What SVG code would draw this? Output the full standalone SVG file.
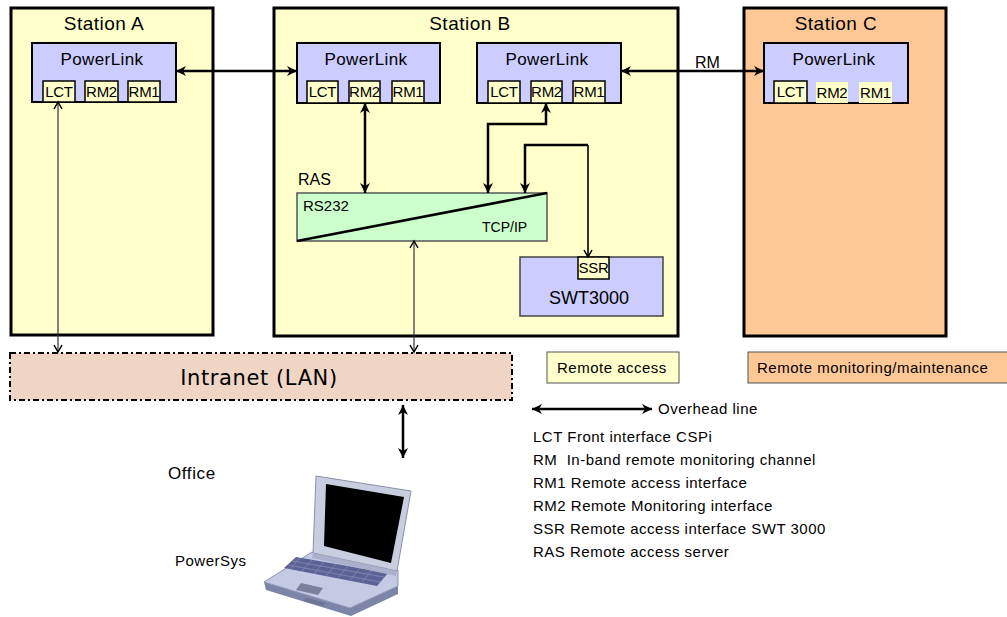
<svg xmlns="http://www.w3.org/2000/svg" width="1007" height="617" viewBox="0 0 1007 617">
  <style>
    text { font-family: "Liberation Sans", Arial, sans-serif; fill: #000; }
    .station { stroke: #000; stroke-width: 3; }
    .yellow { fill: #ffffcc; }
    .peach { fill: #fdc896; }
    .pl { fill: #ccccff; stroke: #000; stroke-width: 2; }
    .port { fill: #ffffcc; stroke: #000; stroke-width: 1.5; }
    .portnb { fill: #ffffcc; stroke: none; }
    .t-st { font-size: 19px; letter-spacing: 0.5px; text-anchor: middle; }
    .t-pl { font-size: 17px; letter-spacing: 0.4px; text-anchor: middle; }
    .t-port { font-size: 15px; letter-spacing: -0.3px; text-anchor: middle; }
    .t-leg { font-size: 15px; letter-spacing: 0.5px; }
    .thick { fill: none; stroke: #000; stroke-width: 2.5; }
    .thin { fill: none; stroke: #333; stroke-width: 1.2; }
  </style>
  <defs>
    <marker id="ah" markerUnits="userSpaceOnUse" markerWidth="12" markerHeight="12" refX="10" refY="6" orient="auto-start-reverse">
      <path d="M0,1 L10,6 L0,11 L3,6 Z" fill="#000"/>
    </marker>
    <marker id="ahs" markerUnits="userSpaceOnUse" markerWidth="10" markerHeight="10" refX="8" refY="5" orient="auto-start-reverse">
      <path d="M1,1 L8,5 L1,9" fill="none" stroke="#000" stroke-width="1.5"/>
    </marker>
  </defs>

  <rect width="1007" height="617" fill="#fff"/>

  <!-- Station A -->
  <g id="station-a">
    <rect x="11" y="8" width="202" height="327" class="station yellow"/>
    <text x="104" y="30" class="t-st">Station A</text>
  </g>
  <g id="powerlink-a">
    <rect x="32" y="43" width="144" height="59" class="pl"/>
    <text x="102" y="65" class="t-pl">PowerLink</text>
    <rect x="43" y="81" width="32" height="21" class="port"/>
    <text x="59" y="97" class="t-port">LCT</text>
    <rect x="85" y="81" width="33" height="21" class="port"/>
    <text x="101.5" y="97" class="t-port">RM2</text>
    <rect x="128" y="81" width="32" height="21" class="port"/>
    <text x="144" y="97" class="t-port">RM1</text>
  </g>

  <!-- Station B -->
  <g id="station-b">
    <rect x="274" y="8" width="404" height="328" class="station yellow"/>
    <text x="470" y="30" class="t-st">Station B</text>
  </g>
  <g id="powerlink-b1">
    <rect x="297" y="43" width="143" height="60" class="pl"/>
    <text x="366" y="65" class="t-pl">PowerLink</text>
    <rect x="307" y="81" width="31" height="22" class="port"/>
    <text x="322.5" y="97" class="t-port">LCT</text>
    <rect x="349" y="81" width="31" height="22" class="port"/>
    <text x="364.5" y="97" class="t-port">RM2</text>
    <rect x="392" y="81" width="32" height="22" class="port"/>
    <text x="408" y="97" class="t-port">RM1</text>
  </g>
  <g id="powerlink-b2">
    <rect x="477" y="43" width="144" height="60" class="pl"/>
    <text x="547" y="65" class="t-pl">PowerLink</text>
    <rect x="488" y="81" width="32" height="22" class="port"/>
    <text x="504" y="97" class="t-port">LCT</text>
    <rect x="531" y="81" width="31" height="22" class="port"/>
    <text x="546.5" y="97" class="t-port">RM2</text>
    <rect x="573" y="81" width="32" height="22" class="port"/>
    <text x="589" y="97" class="t-port">RM1</text>
  </g>
  <g id="ras">
    <text x="298" y="185" style="font-size:16px">RAS</text>
    <rect x="297" y="193" width="250" height="48" fill="#ccffcc" stroke="#555" stroke-width="1.5"/>
    <line x1="297" y1="241" x2="547" y2="193" stroke="#000" stroke-width="2.5"/>
    <text x="303" y="211" style="font-size:15px">RS232</text>
    <text x="482" y="232" style="font-size:14px">TCP/IP</text>
  </g>
  <g id="swt3000">
    <rect x="520" y="257" width="143" height="59" fill="#ccccff" stroke="#444" stroke-width="1.5"/>
    <rect x="578" y="257" width="31" height="22" class="port"/>
    <text x="593.5" y="273" class="t-port">SSR</text>
    <text x="589" y="304" style="font-size:18px;text-anchor:middle">SWT3000</text>
  </g>

  <!-- Station C -->
  <g id="station-c">
    <rect x="744" y="8" width="202" height="328" class="station peach"/>
    <text x="836" y="30" class="t-st">Station C</text>
  </g>
  <g id="powerlink-c">
    <rect x="764" y="43" width="144" height="60" class="pl"/>
    <text x="834" y="65" class="t-pl">PowerLink</text>
    <rect x="774" y="81" width="33" height="22" class="port"/>
    <text x="790.5" y="97" class="t-port">LCT</text>
    <rect x="816" y="82" width="32" height="21" class="portnb"/>
    <text x="832" y="98" class="t-port">RM2</text>
    <rect x="859" y="82" width="33" height="21" class="portnb"/>
    <text x="875.5" y="98" class="t-port">RM1</text>
  </g>

  <!-- Intranet -->
  <g id="intranet">
    <rect x="10" y="353" width="502" height="47" fill="#f0d4c4" stroke="#000" stroke-width="2" stroke-dasharray="6 3 2 3"/>
    <text x="259" y="385" style="font-family:'DejaVu Sans',Verdana,sans-serif;font-size:21px;letter-spacing:0.6px;text-anchor:middle">Intranet (LAN)</text>
  </g>

  <!-- Office computer -->
  <g id="office">
    <text x="168" y="479" style="font-size:17px;letter-spacing:0.6px">Office</text>
    <text x="175" y="566" style="font-size:15px;letter-spacing:0.5px">PowerSys</text>
  </g>
  <g id="laptop">
    <!-- base underside / thickness -->
    <polygon points="264,582 350,608 398,586 398,594 351,616 266,590" fill="#7c84a8"/>
    <!-- base top -->
    <polygon points="312,552 398,570 398,586 350,608 264,582" fill="#c4cae4" stroke="#8d94b4" stroke-width="1"/>
    <!-- keyboard -->
    <polygon points="296,557 388,573 377,586 284,568" fill="#5c6294"/>
    <g stroke="#8a90bc" stroke-width="0.7">
      <line x1="292" y1="561" x2="384" y2="577"/>
      <line x1="288" y1="565" x2="380" y2="582"/>
      <line x1="300" y1="558" x2="290" y2="569"/>
      <line x1="312" y1="560" x2="302" y2="571"/>
      <line x1="324" y1="562" x2="314" y2="574"/>
      <line x1="336" y1="564" x2="326" y2="576"/>
      <line x1="348" y1="566" x2="338" y2="578"/>
      <line x1="360" y1="568" x2="350" y2="580"/>
      <line x1="372" y1="570" x2="362" y2="582"/>
    </g>
    <!-- touchpad -->
    <polygon points="301,583 323,588 318,595 296,590" fill="#7a809e"/>
    <polygon points="306,598 326,603 323,606 303,601" fill="#6e7494"/>
    <!-- lid -->
    <polygon points="316,476 411,491 397,571 313,553" fill="#c8cee0" stroke="#8a90a8" stroke-width="1"/>
    <!-- screen -->
    <polygon points="326,484 404,497 391,563 324,546" fill="#000"/>
    <!-- hinge strip -->
    <polygon points="313,553 397,571 396,576 312,558" fill="#aab0cc"/>
  </g>

  <!-- Legend -->
  <g id="legend">
    <rect x="547" y="352" width="132" height="31" fill="#ffffcc" stroke="#555" stroke-width="1"/>
    <text x="557" y="373" class="t-leg">Remote access</text>
    <rect x="748" y="352" width="270" height="31" fill="#fdc896" stroke="#555" stroke-width="1"/>
    <text x="757" y="373" class="t-leg">Remote monitoring/maintenance</text>
    <text x="658" y="414" class="t-leg">Overhead line</text>
    <text x="533" y="442" class="t-leg">LCT Front interface CSPi</text>
    <text x="533" y="465" class="t-leg" xml:space="preserve">RM  In-band remote monitoring channel</text>
    <text x="533" y="488" class="t-leg">RM1 Remote access interface</text>
    <text x="533" y="511" class="t-leg">RM2 Remote Monitoring interface</text>
    <text x="533" y="534" class="t-leg">SSR Remote access interface SWT 3000</text>
    <text x="533" y="557" class="t-leg">RAS Remote access server</text>
  </g>

  <!-- Connectors -->
  <g id="connectors">
    <path d="M176,71 H297" class="thick" marker-start="url(#ah)" marker-end="url(#ah)"/>
    <path d="M621,71 H764" class="thick" marker-start="url(#ah)" marker-end="url(#ah)"/>
    <text x="695" y="68" style="font-size:16px">RM</text>
    <path d="M365,103 V193" class="thick" marker-start="url(#ah)" marker-end="url(#ah)"/>
    <path d="M546,103 V124 H488 V193" class="thick" marker-start="url(#ah)" marker-end="url(#ah)"/>
    <path d="M588,145 H525 V193" class="thick" marker-end="url(#ah)"/>
    <path d="M588,145 V257" fill="none" stroke="#000" stroke-width="1.6" marker-end="url(#ahs)"/>
    <path d="M58,102 V352" class="thin" marker-start="url(#ahs)" marker-end="url(#ahs)"/>
    <path d="M414,241 V352" class="thin" marker-start="url(#ahs)" marker-end="url(#ahs)"/>
    <path d="M403,405 V458" class="thick" marker-start="url(#ah)" marker-end="url(#ah)"/>
    <path d="M532,409 H652" class="thick" marker-start="url(#ah)" marker-end="url(#ah)"/>
  </g>
</svg>
